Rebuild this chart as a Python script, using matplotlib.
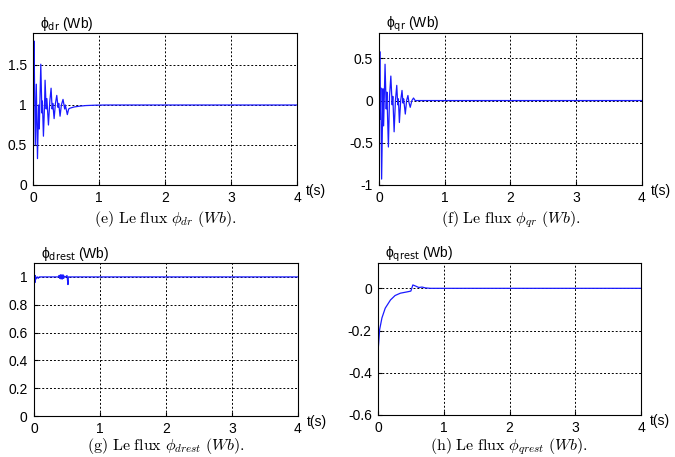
import matplotlib
matplotlib.use("Agg")
import matplotlib.pyplot as plt

# valeurs (t en s, flux en Wb)
t_dr = [0.0, 0.003, 0.01, 0.016, 0.024, 0.035, 0.05, 0.068, 0.085, 0.095, 0.118, 0.135,
        0.142, 0.158, 0.175, 0.183, 0.2, 0.21, 0.234, 0.255, 0.274, 0.29, 0.3, 0.32,
        0.34, 0.36, 0.38, 0.39, 0.41, 0.43, 0.455, 0.48, 0.49, 0.52, 0.54, 0.56, 0.62,
        0.7, 0.8, 0.95, 1.1, 4.0]
phi_dr = [0.0, 1.82, 1.25, 1.8, 1.2, 0.5, 1.26, 0.33, 1.0, 0.7, 1.51, 0.9,
          1.05, 0.61, 1.0, 1.31, 0.95, 1.08, 0.75, 1.05, 1.21, 0.95, 1.02, 0.83,
          1.02, 1.12, 0.97, 1.02, 0.86, 1.0, 1.07, 0.95, 1.0, 0.88, 0.95, 0.96, 0.975,
          0.985, 0.993, 0.998, 1.0, 1.0]

t_qr = [0.0, 0.003, 0.008, 0.012, 0.018, 0.028, 0.04, 0.06, 0.07, 0.092, 0.11, 0.12,
        0.143, 0.16, 0.18, 0.2, 0.21, 0.23, 0.25, 0.27, 0.285, 0.295, 0.31, 0.33,
        0.35, 0.365, 0.375, 0.4, 0.42, 0.44, 0.455, 0.475, 0.5, 0.525, 0.55, 4.0]
phi_qr = [0.0, 0.61, 0.1, 0.58, -0.22, 0.15, -0.93, 0.14, -0.3, 0.43, -0.1, 0.1,
          -0.55, 0.05, 0.29, -0.05, 0.05, -0.37, 0.0, 0.18, -0.05, 0.02, -0.26, 0.0,
          0.12, -0.03, 0.02, -0.16, 0.0, 0.06, -0.02, -0.08, 0.0, 0.03, 0.0, 0.0]

t_drest = [0.0, 0.004, 0.01, 0.015, 0.02, 0.03, 0.05, 0.065, 0.08, 0.37, 0.38, 0.39,
           0.4, 0.41, 0.42, 0.43, 0.44, 0.45, 0.46, 0.48, 0.5, 0.515, 0.52, 4.0]
phi_drest = [0.0, 0.97, 1.0, 0.96, 1.01, 0.985, 1.0, 0.99, 1.0, 1.0, 1.01, 0.99,
             1.015, 0.985, 1.015, 0.985, 1.015, 0.99, 1.005, 1.0, 1.01, 0.945, 1.0, 1.0]

t_qrest = [0.0, 0.005, 0.01, 0.025, 0.06, 0.11, 0.19, 0.26, 0.34, 0.44, 0.5, 0.53,
           0.57, 0.62, 0.67, 0.72, 0.8, 4.0]
phi_qrest = [-0.6, -0.28, -0.26, -0.195, -0.14, -0.094, -0.055, -0.034, -0.023, -0.017,
             -0.013, 0.016, 0.011, 0.004, 0.006, 0.002, 0.0, 0.0]

panels = [
    # (t, y, ylim, yticks, ytick labels, nom, lettre, axes px [l, t, r, b], ligne de base legende)
    (t_dr, phi_dr, (0, 1.9), [0, 0.5, 1, 1.5], ["0", "0.5", "1", "1.5"], "dr", "e", [33, 33, 297, 185], 223),
    (t_qr, phi_qr, (-1, 0.8), [-1, -0.5, 0, 0.5], ["-1", "-0.5", "0", "0.5"], "qr", "f", [379, 33, 642, 185], 223),
    (t_drest, phi_drest, (0, 1.1), [0, 0.2, 0.4, 0.6, 0.8, 1], ["0", "0.2", "0.4", "0.6", "0.8", "1"], "drest", "g", [34, 263, 298, 416], 450),
    (t_qrest, phi_qrest, (-0.6, 0.12), [-0.6, -0.4, -0.2, 0], ["-0.6", "-0.4", "-0.2", "0"], "qrest", "h", [378, 263, 641, 415], 450),
]

W, H = 675, 457
fig = plt.figure(figsize=(W / 100, H / 100), dpi=100)
sans = ["Liberation Sans", "DejaVu Sans"]

for t, y, ylim, yt, ytl, name, letter, (l, tp, r, b), cap_y in panels:
    ax = fig.add_axes([l / W, 1 - b / H, (r - l) / W, (b - tp) / H])
    ax.plot(t, y, color="#1a1aff", lw=0.9)
    ax.set_xlim(0, 4)
    ax.set_ylim(*ylim)
    ax.set_xticks([0, 1, 2, 3, 4])
    ax.set_xticklabels(["0", "1", "2", "3", "4"])
    ax.set_yticks(yt)
    ax.set_yticklabels(ytl)
    ax.grid(True, color="black", linestyle=(0, (2, 2)), lw=0.7)
    ax.tick_params(direction="in", length=3, labelsize=10, pad=4.5)
    for lab in ax.get_xticklabels() + ax.get_yticklabels():
        lab.set_fontfamily(sans)
    for s in ax.spines.values():
        s.set_linewidth(0.8)

    # nom de la grandeur au-dessus de l'axe
    fig.text((l + 7) / W, 1 - (tp - 5) / H, "\u03d5$_{\\rm %s}$ (Wb)" % name,
             fontsize=10, fontfamily=sans, math_fontfamily="dejavusans",
             ha="left", va="baseline")
    fig.text((r + 9) / W, 1 - (b + 6) / H, "t(s)", fontsize=10,
             fontfamily=sans, ha="left", va="center")
    # legende sous la figure
    cx = (l + r) / 2
    fig.text(cx / W, 1 - cap_y / H,
             r"$\mathrm{(%s)\ Le\ flux}\ \phi_{%s}\ (Wb).$" % (letter, name),
             fontsize=11.5, math_fontfamily="cm", ha="center", va="baseline")

fig.savefig("out.png", dpi=100)
